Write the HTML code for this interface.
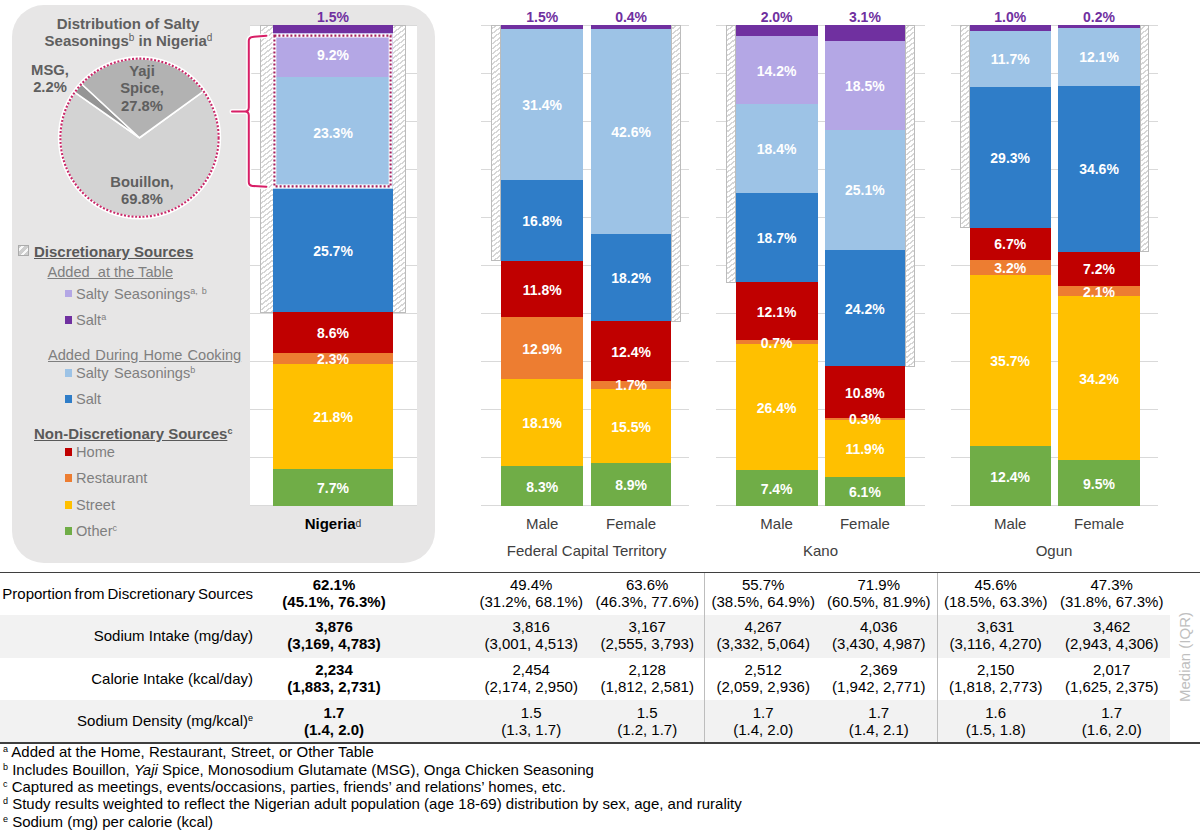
<!DOCTYPE html><html><head><meta charset="utf-8"><style>
*{margin:0;padding:0;box-sizing:border-box}
html,body{width:1200px;height:830px;overflow:hidden;background:#fff}
body{position:relative;font-family:"Liberation Sans",sans-serif;color:#000}
.a{position:absolute}
.g{position:absolute;height:1px;background:#D9D9D9}
.seg{position:absolute}
.bl{position:absolute;color:#fff;font-weight:bold;font-size:14px;line-height:14px;text-align:center;white-space:nowrap}
.tl{position:absolute;color:#7030A0;font-weight:bold;font-size:14px;line-height:14px;text-align:center;white-space:nowrap}
.hatch{position:absolute;border:1px solid #BCBCBC;background:repeating-linear-gradient(-37deg,#fff 0px,#fff 2.6px,#D6D6D6 2.6px,#D6D6D6 4.05px)}
.ax{position:absolute;font-size:14px;line-height:14px;color:#404040;text-align:center;white-space:nowrap}
.lg{position:absolute;font-size:14px;line-height:14px;color:#767171;white-space:nowrap}
.sq{position:absolute;width:8px;height:8px}
sup{font-size:9px;vertical-align:0;position:relative;top:-5px}
.tc{position:absolute;font-size:15px;line-height:17px;text-align:center;white-space:nowrap;color:#000}
.fn{position:absolute;left:3px;font-size:15px;line-height:15px;white-space:nowrap;color:#000}
</style></head><body>

<div class="a" style="left:11.5px;top:5px;width:423.2px;height:557.9px;border-radius:32px;background:#E7E6E6"></div>
<div class="a" style="left:249.7px;top:25px;width:167px;height:481px;background:#fff"></div>
<div class="g" style="left:249.5px;top:24.50px;width:167.0px"></div>
<div class="g" style="left:249.5px;top:72.53px;width:167.0px"></div>
<div class="g" style="left:249.5px;top:120.56px;width:167.0px"></div>
<div class="g" style="left:249.5px;top:168.59px;width:167.0px"></div>
<div class="g" style="left:249.5px;top:216.62px;width:167.0px"></div>
<div class="g" style="left:249.5px;top:264.65px;width:167.0px"></div>
<div class="g" style="left:249.5px;top:312.68px;width:167.0px"></div>
<div class="g" style="left:249.5px;top:360.71px;width:167.0px"></div>
<div class="g" style="left:249.5px;top:408.74px;width:167.0px"></div>
<div class="g" style="left:249.5px;top:456.77px;width:167.0px"></div>
<div class="g" style="left:249.5px;top:504.80px;width:167.0px"></div>
<div class="g" style="left:481px;top:24.50px;width:208.4px"></div>
<div class="g" style="left:481px;top:72.53px;width:208.4px"></div>
<div class="g" style="left:481px;top:120.56px;width:208.4px"></div>
<div class="g" style="left:481px;top:168.59px;width:208.4px"></div>
<div class="g" style="left:481px;top:216.62px;width:208.4px"></div>
<div class="g" style="left:481px;top:264.65px;width:208.4px"></div>
<div class="g" style="left:481px;top:312.68px;width:208.4px"></div>
<div class="g" style="left:481px;top:360.71px;width:208.4px"></div>
<div class="g" style="left:481px;top:408.74px;width:208.4px"></div>
<div class="g" style="left:481px;top:456.77px;width:208.4px"></div>
<div class="g" style="left:481px;top:504.80px;width:208.4px"></div>
<div class="g" style="left:716px;top:24.50px;width:208.6px"></div>
<div class="g" style="left:716px;top:72.53px;width:208.6px"></div>
<div class="g" style="left:716px;top:120.56px;width:208.6px"></div>
<div class="g" style="left:716px;top:168.59px;width:208.6px"></div>
<div class="g" style="left:716px;top:216.62px;width:208.6px"></div>
<div class="g" style="left:716px;top:264.65px;width:208.6px"></div>
<div class="g" style="left:716px;top:312.68px;width:208.6px"></div>
<div class="g" style="left:716px;top:360.71px;width:208.6px"></div>
<div class="g" style="left:716px;top:408.74px;width:208.6px"></div>
<div class="g" style="left:716px;top:456.77px;width:208.6px"></div>
<div class="g" style="left:716px;top:504.80px;width:208.6px"></div>
<div class="g" style="left:951px;top:24.50px;width:207.4px"></div>
<div class="g" style="left:951px;top:72.53px;width:207.4px"></div>
<div class="g" style="left:951px;top:120.56px;width:207.4px"></div>
<div class="g" style="left:951px;top:168.59px;width:207.4px"></div>
<div class="g" style="left:951px;top:216.62px;width:207.4px"></div>
<div class="g" style="left:951px;top:264.65px;width:207.4px"></div>
<div class="g" style="left:951px;top:312.68px;width:207.4px"></div>
<div class="g" style="left:951px;top:360.71px;width:207.4px"></div>
<div class="g" style="left:951px;top:408.74px;width:207.4px"></div>
<div class="g" style="left:951px;top:456.77px;width:207.4px"></div>
<div class="g" style="left:951px;top:504.80px;width:207.4px"></div>
<div class="hatch" style="left:260.0px;top:25.0px;width:145.5px;height:287.6px"></div>
<div class="hatch" style="left:490.5px;top:25.0px;width:10.5px;height:236.2px"></div>
<div class="hatch" style="left:671.3px;top:25.0px;width:9.7px;height:296.7px"></div>
<div class="hatch" style="left:725.7px;top:25.0px;width:9.9px;height:257.8px"></div>
<div class="hatch" style="left:905.3px;top:25.0px;width:10.2px;height:341.8px"></div>
<div class="hatch" style="left:960.4px;top:25.0px;width:9.4px;height:203.1px"></div>
<div class="hatch" style="left:1140.0px;top:25.0px;width:9.3px;height:227.1px"></div>
<div class="seg" style="left:273.0px;top:469.04px;width:120.0px;height:36.96px;background:#70AD47"></div>
<div class="seg" style="left:273.0px;top:364.40px;width:120.0px;height:104.64px;background:#FFC000"></div>
<div class="seg" style="left:273.0px;top:353.36px;width:120.0px;height:11.04px;background:#ED7D31"></div>
<div class="seg" style="left:273.0px;top:312.08px;width:120.0px;height:41.28px;background:#C00000"></div>
<div class="seg" style="left:273.0px;top:188.72px;width:120.0px;height:123.36px;background:#2F7DC8"></div>
<div class="seg" style="left:273.0px;top:76.88px;width:120.0px;height:111.84px;background:#9DC3E6"></div>
<div class="seg" style="left:273.0px;top:32.72px;width:120.0px;height:44.16px;background:#B4A7E5"></div>
<div class="seg" style="left:273.0px;top:25.00px;width:120.0px;height:7.72px;background:#7030A0"></div>
<div class="bl" style="left:293.0px;top:481.0px;width:80px">7.7%</div>
<div class="bl" style="left:293.0px;top:410.2px;width:80px">21.8%</div>
<div class="bl" style="left:293.0px;top:352.4px;width:80px">2.3%</div>
<div class="bl" style="left:293.0px;top:326.2px;width:80px">8.6%</div>
<div class="bl" style="left:293.0px;top:243.9px;width:80px">25.7%</div>
<div class="bl" style="left:293.0px;top:126.3px;width:80px">23.3%</div>
<div class="bl" style="left:293.0px;top:48.3px;width:80px">9.2%</div>
<div class="tl" style="left:293.0px;top:10px;width:80px">1.5%</div>
<div class="seg" style="left:501.0px;top:466.16px;width:82.4px;height:39.84px;background:#70AD47"></div>
<div class="seg" style="left:501.0px;top:379.28px;width:82.4px;height:86.88px;background:#FFC000"></div>
<div class="seg" style="left:501.0px;top:317.36px;width:82.4px;height:61.92px;background:#ED7D31"></div>
<div class="seg" style="left:501.0px;top:260.72px;width:82.4px;height:56.64px;background:#C00000"></div>
<div class="seg" style="left:501.0px;top:180.08px;width:82.4px;height:80.64px;background:#2F7DC8"></div>
<div class="seg" style="left:501.0px;top:29.36px;width:82.4px;height:150.72px;background:#9DC3E6"></div>
<div class="seg" style="left:501.0px;top:25.00px;width:82.4px;height:4.36px;background:#7030A0"></div>
<div class="bl" style="left:502.2px;top:479.6px;width:80px">8.3%</div>
<div class="bl" style="left:502.2px;top:416.2px;width:80px">18.1%</div>
<div class="bl" style="left:502.2px;top:341.8px;width:80px">12.9%</div>
<div class="bl" style="left:502.2px;top:282.5px;width:80px">11.8%</div>
<div class="bl" style="left:502.2px;top:213.9px;width:80px">16.8%</div>
<div class="bl" style="left:502.2px;top:98.2px;width:80px">31.4%</div>
<div class="tl" style="left:502.2px;top:10px;width:80px">1.5%</div>
<div class="seg" style="left:590.9px;top:463.28px;width:80.4px;height:42.72px;background:#70AD47"></div>
<div class="seg" style="left:590.9px;top:388.88px;width:80.4px;height:74.40px;background:#FFC000"></div>
<div class="seg" style="left:590.9px;top:380.72px;width:80.4px;height:8.16px;background:#ED7D31"></div>
<div class="seg" style="left:590.9px;top:321.20px;width:80.4px;height:59.52px;background:#C00000"></div>
<div class="seg" style="left:590.9px;top:233.84px;width:80.4px;height:87.36px;background:#2F7DC8"></div>
<div class="seg" style="left:590.9px;top:29.36px;width:80.4px;height:204.48px;background:#9DC3E6"></div>
<div class="seg" style="left:590.9px;top:25.00px;width:80.4px;height:4.36px;background:#7030A0"></div>
<div class="bl" style="left:591.1px;top:478.1px;width:80px">8.9%</div>
<div class="bl" style="left:591.1px;top:419.6px;width:80px">15.5%</div>
<div class="bl" style="left:591.1px;top:378.3px;width:80px">1.7%</div>
<div class="bl" style="left:591.1px;top:344.5px;width:80px">12.4%</div>
<div class="bl" style="left:591.1px;top:271.0px;width:80px">18.2%</div>
<div class="bl" style="left:591.1px;top:125.1px;width:80px">42.6%</div>
<div class="tl" style="left:591.1px;top:10px;width:80px">0.4%</div>
<div class="seg" style="left:735.6px;top:470.48px;width:82.0px;height:35.52px;background:#70AD47"></div>
<div class="seg" style="left:735.6px;top:343.76px;width:82.0px;height:126.72px;background:#FFC000"></div>
<div class="seg" style="left:735.6px;top:340.40px;width:82.0px;height:3.36px;background:#ED7D31"></div>
<div class="seg" style="left:735.6px;top:282.32px;width:82.0px;height:58.08px;background:#C00000"></div>
<div class="seg" style="left:735.6px;top:192.56px;width:82.0px;height:89.76px;background:#2F7DC8"></div>
<div class="seg" style="left:735.6px;top:104.24px;width:82.0px;height:88.32px;background:#9DC3E6"></div>
<div class="seg" style="left:735.6px;top:36.08px;width:82.0px;height:68.16px;background:#B4A7E5"></div>
<div class="seg" style="left:735.6px;top:25.00px;width:82.0px;height:11.08px;background:#7030A0"></div>
<div class="bl" style="left:736.6px;top:481.7px;width:80px">7.4%</div>
<div class="bl" style="left:736.6px;top:400.6px;width:80px">26.4%</div>
<div class="bl" style="left:736.6px;top:335.6px;width:80px">0.7%</div>
<div class="bl" style="left:736.6px;top:304.9px;width:80px">12.1%</div>
<div class="bl" style="left:736.6px;top:230.9px;width:80px">18.7%</div>
<div class="bl" style="left:736.6px;top:141.9px;width:80px">18.4%</div>
<div class="bl" style="left:736.6px;top:63.7px;width:80px">14.2%</div>
<div class="tl" style="left:736.6px;top:10px;width:80px">2.0%</div>
<div class="seg" style="left:824.5px;top:476.72px;width:80.8px;height:29.28px;background:#70AD47"></div>
<div class="seg" style="left:824.5px;top:419.60px;width:80.8px;height:57.12px;background:#FFC000"></div>
<div class="seg" style="left:824.5px;top:418.16px;width:80.8px;height:1.44px;background:#ED7D31"></div>
<div class="seg" style="left:824.5px;top:366.32px;width:80.8px;height:51.84px;background:#C00000"></div>
<div class="seg" style="left:824.5px;top:250.16px;width:80.8px;height:116.16px;background:#2F7DC8"></div>
<div class="seg" style="left:824.5px;top:129.68px;width:80.8px;height:120.48px;background:#9DC3E6"></div>
<div class="seg" style="left:824.5px;top:40.88px;width:80.8px;height:88.80px;background:#B4A7E5"></div>
<div class="seg" style="left:824.5px;top:25.00px;width:80.8px;height:15.88px;background:#7030A0"></div>
<div class="bl" style="left:824.9px;top:484.9px;width:80px">6.1%</div>
<div class="bl" style="left:824.9px;top:441.7px;width:80px">11.9%</div>
<div class="bl" style="left:824.9px;top:412.4px;width:80px">0.3%</div>
<div class="bl" style="left:824.9px;top:385.7px;width:80px">10.8%</div>
<div class="bl" style="left:824.9px;top:301.7px;width:80px">24.2%</div>
<div class="bl" style="left:824.9px;top:183.4px;width:80px">25.1%</div>
<div class="bl" style="left:824.9px;top:78.8px;width:80px">18.5%</div>
<div class="tl" style="left:824.9px;top:10px;width:80px">3.1%</div>
<div class="seg" style="left:969.8px;top:446.48px;width:80.8px;height:59.52px;background:#70AD47"></div>
<div class="seg" style="left:969.8px;top:275.12px;width:80.8px;height:171.36px;background:#FFC000"></div>
<div class="seg" style="left:969.8px;top:259.76px;width:80.8px;height:15.36px;background:#ED7D31"></div>
<div class="seg" style="left:969.8px;top:227.60px;width:80.8px;height:32.16px;background:#C00000"></div>
<div class="seg" style="left:969.8px;top:86.96px;width:80.8px;height:140.64px;background:#2F7DC8"></div>
<div class="seg" style="left:969.8px;top:30.80px;width:80.8px;height:56.16px;background:#9DC3E6"></div>
<div class="seg" style="left:969.8px;top:25.00px;width:80.8px;height:5.80px;background:#7030A0"></div>
<div class="bl" style="left:970.2px;top:469.7px;width:80px">12.4%</div>
<div class="bl" style="left:970.2px;top:354.3px;width:80px">35.7%</div>
<div class="bl" style="left:970.2px;top:260.9px;width:80px">3.2%</div>
<div class="bl" style="left:970.2px;top:237.2px;width:80px">6.7%</div>
<div class="bl" style="left:970.2px;top:150.8px;width:80px">29.3%</div>
<div class="bl" style="left:970.2px;top:52.4px;width:80px">11.7%</div>
<div class="tl" style="left:970.2px;top:10px;width:80px">1.0%</div>
<div class="seg" style="left:1058.1px;top:460.40px;width:81.9px;height:45.60px;background:#70AD47"></div>
<div class="seg" style="left:1058.1px;top:296.24px;width:81.9px;height:164.16px;background:#FFC000"></div>
<div class="seg" style="left:1058.1px;top:286.16px;width:81.9px;height:10.08px;background:#ED7D31"></div>
<div class="seg" style="left:1058.1px;top:251.60px;width:81.9px;height:34.56px;background:#C00000"></div>
<div class="seg" style="left:1058.1px;top:85.52px;width:81.9px;height:166.08px;background:#2F7DC8"></div>
<div class="seg" style="left:1058.1px;top:27.44px;width:81.9px;height:58.08px;background:#9DC3E6"></div>
<div class="seg" style="left:1058.1px;top:25.00px;width:81.9px;height:2.80px;background:#7030A0"></div>
<div class="bl" style="left:1059.0px;top:476.7px;width:80px">9.5%</div>
<div class="bl" style="left:1059.0px;top:371.8px;width:80px">34.2%</div>
<div class="bl" style="left:1059.0px;top:284.7px;width:80px">2.1%</div>
<div class="bl" style="left:1059.0px;top:262.4px;width:80px">7.2%</div>
<div class="bl" style="left:1059.0px;top:162.1px;width:80px">34.6%</div>
<div class="bl" style="left:1059.0px;top:50.0px;width:80px">12.1%</div>
<div class="tl" style="left:1059.0px;top:10px;width:80px">0.2%</div>
<svg class="a" style="left:0;top:0" width="440" height="240" viewBox="0 0 440 240">
<circle cx="139.5" cy="137.75" r="80.4" fill="none" stroke="#fff" stroke-width="2.6"/>
<path d="M139.50,137.75 L203.41,91.31 A79,79 0 1 1 74.87,92.32 Z" fill="#D3D3D3" stroke="#fff" stroke-width="1.6" stroke-linejoin="round"/>
<path d="M139.50,137.75 L74.87,92.32 A79,79 0 0 1 81.63,83.97 Z" fill="#959595" stroke="#fff" stroke-width="1.6" stroke-linejoin="round"/>
<path d="M139.50,137.75 L81.63,83.97 A79,79 0 0 1 203.41,91.31 Z" fill="#B2B2B2" stroke="#fff" stroke-width="1.6" stroke-linejoin="round"/>
<circle cx="139.5" cy="137.75" r="79.1" fill="none" stroke="#C92868" stroke-width="2.1" stroke-dasharray="2 1.72"/>
<path d="M266.4,35.7 L252.5,36.9 C250,37.2 248.8,38.5 248.8,40.8 L248.8,107.5 C248.8,110.2 247.6,111.4 245,111.4 L232,111.4 M245,111.4 C247.6,111.4 248.8,112.6 248.8,115.3 L248.8,182 C248.8,184.3 250,185.6 252.5,185.9 L266.4,186.8" fill="none" stroke="#fff" stroke-width="5" stroke-linecap="round" stroke-opacity="0.9"/>
<path d="M266.4,35.7 L252.5,36.9 C250,37.2 248.8,38.5 248.8,40.8 L248.8,107.5 C248.8,110.2 247.6,111.4 245,111.4 L232,111.4 M245,111.4 C247.6,111.4 248.8,112.6 248.8,115.3 L248.8,182 C248.8,184.3 250,185.6 252.5,185.9 L266.4,186.8" fill="none" stroke="#D81E66" stroke-width="2" stroke-linecap="round"/>
<rect x="274.4" y="35.6" width="116.2" height="150.8" fill="none" stroke="#fff" stroke-width="3.8"/>
<rect x="274.4" y="35.6" width="116.2" height="150.8" fill="none" stroke="#A3205E" stroke-width="2.1" stroke-dasharray="2 2"/>
</svg>
<div style="position:absolute;font-weight:bold;font-size:14.4px;line-height:14px;color:#5F5F5F;text-align:center;white-space:nowrap;font-size:15px;left:28px;top:16.8px;width:200px">Distribution of Salty</div>
<div style="position:absolute;font-weight:bold;font-size:14.4px;line-height:14px;color:#5F5F5F;text-align:center;white-space:nowrap;font-size:15px;left:28.5px;top:33.8px;width:200px">Seasonings<sup style="font-weight:normal;font-size:10px">b</sup> in Nigeria<sup style="font-weight:normal;font-size:10px">d</sup></div>
<div style="position:absolute;font-weight:bold;font-size:14.4px;line-height:14px;color:#5F5F5F;text-align:center;white-space:nowrap;left:92px;top:62.9px;width:100px;font-size:14.8px;line-height:17.4px">Yaji<br>Spice,<br>27.8%</div>
<div style="position:absolute;font-weight:bold;font-size:14.4px;line-height:14px;color:#5F5F5F;text-align:center;white-space:nowrap;left:92px;top:174.2px;width:100px;font-size:14.8px;line-height:16.9px">Bouillon,<br>69.8%</div>
<div style="position:absolute;font-weight:bold;font-size:14.4px;line-height:14px;color:#5F5F5F;text-align:center;white-space:nowrap;left:0px;top:62px;width:100px;font-size:14.8px;line-height:17px">MSG,<br>2.2%</div>
<div style="position:absolute;left:17.5px;top:245px;width:11.3px;height:11.3px;border:1.3px solid #ABABAB;background:repeating-linear-gradient(-45deg,#CDCDCD 0,#CDCDCD 3.4px,#F8F8F8 3.4px,#F8F8F8 5.4px)"></div>
<div style="position:absolute;font-size:14.6px;line-height:14px;white-space:nowrap;left:34px;top:245px;font-size:15px;font-weight:bold;color:#595959;text-decoration:underline">Discretionary Sources</div>
<div style="position:absolute;font-size:14.6px;line-height:14px;white-space:nowrap;left:47.5px;top:265px;color:#7F7F7F;text-decoration:underline">Added&nbsp; at the Table</div>
<div style="position:absolute;left:64.5px;top:289.7px;width:7.8px;height:7.8px;background:#B4A7E5"></div>
<div style="position:absolute;font-size:14.6px;line-height:14px;white-space:nowrap;left:76px;top:286.6px;color:#7F7F7F;word-spacing:1.5px">Salty Seasonings<sup>a, b</sup></div>
<div style="position:absolute;left:64.5px;top:316.3px;width:7.8px;height:7.8px;background:#7030A0"></div>
<div style="position:absolute;font-size:14.6px;line-height:14px;white-space:nowrap;left:76px;top:313.2px;color:#7F7F7F;word-spacing:1.5px">Salt<sup>a</sup></div>
<div style="position:absolute;left:64.5px;top:369.3px;width:7.8px;height:7.8px;background:#9DC3E6"></div>
<div style="position:absolute;font-size:14.6px;line-height:14px;white-space:nowrap;left:76px;top:366.2px;color:#7F7F7F;word-spacing:1.5px">Salty Seasonings<sup>b</sup></div>
<div style="position:absolute;left:64.5px;top:395.4px;width:7.8px;height:7.8px;background:#2F7DC8"></div>
<div style="position:absolute;font-size:14.6px;line-height:14px;white-space:nowrap;left:76px;top:392.3px;color:#7F7F7F;word-spacing:1.5px">Salt</div>
<div style="position:absolute;left:64.5px;top:448.2px;width:7.8px;height:7.8px;background:#C00000"></div>
<div style="position:absolute;font-size:14.6px;line-height:14px;white-space:nowrap;left:76px;top:445.1px;color:#7F7F7F;word-spacing:1.5px">Home</div>
<div style="position:absolute;left:64.5px;top:474.3px;width:7.8px;height:7.8px;background:#ED7D31"></div>
<div style="position:absolute;font-size:14.6px;line-height:14px;white-space:nowrap;left:76px;top:471.2px;color:#7F7F7F;word-spacing:1.5px">Restaurant</div>
<div style="position:absolute;left:64.5px;top:501.4px;width:7.8px;height:7.8px;background:#FFC000"></div>
<div style="position:absolute;font-size:14.6px;line-height:14px;white-space:nowrap;left:76px;top:498.3px;color:#7F7F7F;word-spacing:1.5px">Street</div>
<div style="position:absolute;left:64.5px;top:527.3px;width:7.8px;height:7.8px;background:#70AD47"></div>
<div style="position:absolute;font-size:14.6px;line-height:14px;white-space:nowrap;left:76px;top:524.2px;color:#7F7F7F;word-spacing:1.5px">Other<sup>c</sup></div>
<div style="position:absolute;font-size:14.6px;line-height:14px;white-space:nowrap;left:48px;top:347.5px;color:#7F7F7F;text-decoration:underline;word-spacing:1.1px">Added During Home Cooking</div>
<div style="position:absolute;font-size:14.6px;line-height:14px;white-space:nowrap;left:34px;top:427px;font-size:15px;font-weight:bold;color:#595959"><u>Non-Discretionary Sources</u><sup>c</sup></div>
<div style="position:absolute;font-size:15px;line-height:15px;color:#404040;text-align:center;white-space:nowrap;left:283px;top:515.7px;width:100px;font-weight:bold;color:#000">Nigeria<sup style="font-weight:normal;font-size:10.3px;top:-2.2px;color:#333">d</sup></div>
<div style="position:absolute;font-size:15px;line-height:15px;color:#404040;text-align:center;white-space:nowrap;left:492.20000000000005px;top:516px;width:100px">Male</div>
<div style="position:absolute;font-size:15px;line-height:15px;color:#404040;text-align:center;white-space:nowrap;left:581.1px;top:516px;width:100px">Female</div>
<div style="position:absolute;font-size:15px;line-height:15px;color:#404040;text-align:center;white-space:nowrap;left:726.6px;top:516px;width:100px">Male</div>
<div style="position:absolute;font-size:15px;line-height:15px;color:#404040;text-align:center;white-space:nowrap;left:814.9px;top:516px;width:100px">Female</div>
<div style="position:absolute;font-size:15px;line-height:15px;color:#404040;text-align:center;white-space:nowrap;left:960.2px;top:516px;width:100px">Male</div>
<div style="position:absolute;font-size:15px;line-height:15px;color:#404040;text-align:center;white-space:nowrap;left:1049px;top:516px;width:100px">Female</div>
<div style="position:absolute;font-size:15px;line-height:15px;color:#404040;text-align:center;white-space:nowrap;left:466.70000000000005px;top:543px;width:240px">Federal Capital Territory</div>
<div style="position:absolute;font-size:15px;line-height:15px;color:#404040;text-align:center;white-space:nowrap;left:700.5px;top:543px;width:240px">Kano</div>
<div style="position:absolute;font-size:15px;line-height:15px;color:#404040;text-align:center;white-space:nowrap;left:934px;top:543px;width:240px">Ogun</div>
<div class="a" style="left:0;top:571.5px;width:1200px;height:1.5px;background:#3F3F3F"></div>
<div class="a" style="left:0;top:615px;width:1169.5px;height:43px;background:#F2F2F2"></div>
<div class="a" style="left:0;top:700px;width:1169.5px;height:42.200000000000045px;background:#F2F2F2"></div>
<div class="a" style="left:0;top:742.2px;width:1200px;height:1.5px;background:#3F3F3F"></div>
<div class="a" style="left:704.2px;top:573px;width:1.1px;height:169.3px;background:#BDBDBD"></div>
<div class="a" style="left:937.0px;top:573px;width:1.1px;height:169.3px;background:#BDBDBD"></div>
<div style="position:absolute;right:947px;top:586.2px;font-size:15px;line-height:16px;white-space:nowrap;word-spacing:-1.2px">Proportion from Discretionary Sources</div>
<div style="position:absolute;right:947px;top:628.0px;font-size:15px;line-height:16px;white-space:nowrap;">Sodium Intake (mg/day)</div>
<div style="position:absolute;right:947px;top:671.2px;font-size:15px;line-height:16px;white-space:nowrap;">Calorie Intake (kcal/day)</div>
<div style="position:absolute;right:947px;top:713.3px;font-size:15px;line-height:16px;white-space:nowrap;">Sodium Density (mg/kcal)<sup>e</sup></div>
<div class="tc" style="font-weight:bold;left:264px;top:576.4px;width:140px">62.1%<br>(45.1%, 76.3%)</div>
<div class="tc" style="left:461.20000000000005px;top:576.4px;width:140px">49.4%<br>(31.2%, 68.1%)</div>
<div class="tc" style="left:577.2px;top:576.4px;width:140px">63.6%<br>(46.3%, 77.6%)</div>
<div class="tc" style="left:693.2px;top:576.4px;width:140px">55.7%<br>(38.5%, 64.9%)</div>
<div class="tc" style="left:808.8px;top:576.4px;width:140px">71.9%<br>(60.5%, 81.9%)</div>
<div class="tc" style="left:925.7px;top:576.4px;width:140px">45.6%<br>(18.5%, 63.3%)</div>
<div class="tc" style="left:1041.7px;top:576.4px;width:140px">47.3%<br>(31.8%, 67.3%)</div>
<div class="tc" style="font-weight:bold;left:264px;top:618.2px;width:140px">3,876<br>(3,169, 4,783)</div>
<div class="tc" style="left:461.20000000000005px;top:618.2px;width:140px">3,816<br>(3,001, 4,513)</div>
<div class="tc" style="left:577.2px;top:618.2px;width:140px">3,167<br>(2,555, 3,793)</div>
<div class="tc" style="left:693.2px;top:618.2px;width:140px">4,267<br>(3,332, 5,064)</div>
<div class="tc" style="left:808.8px;top:618.2px;width:140px">4,036<br>(3,430, 4,987)</div>
<div class="tc" style="left:925.7px;top:618.2px;width:140px">3,631<br>(3,116, 4,270)</div>
<div class="tc" style="left:1041.7px;top:618.2px;width:140px">3,462<br>(2,943, 4,306)</div>
<div class="tc" style="font-weight:bold;left:264px;top:661.4px;width:140px">2,234<br>(1,883, 2,731)</div>
<div class="tc" style="left:461.20000000000005px;top:661.4px;width:140px">2,454<br>(2,174, 2,950)</div>
<div class="tc" style="left:577.2px;top:661.4px;width:140px">2,128<br>(1,812, 2,581)</div>
<div class="tc" style="left:693.2px;top:661.4px;width:140px">2,512<br>(2,059, 2,936)</div>
<div class="tc" style="left:808.8px;top:661.4px;width:140px">2,369<br>(1,942, 2,771)</div>
<div class="tc" style="left:925.7px;top:661.4px;width:140px">2,150<br>(1,818, 2,773)</div>
<div class="tc" style="left:1041.7px;top:661.4px;width:140px">2,017<br>(1,625, 2,375)</div>
<div class="tc" style="font-weight:bold;left:264px;top:703.5px;width:140px">1.7<br>(1.4, 2.0)</div>
<div class="tc" style="left:461.20000000000005px;top:703.5px;width:140px">1.5<br>(1.3, 1.7)</div>
<div class="tc" style="left:577.2px;top:703.5px;width:140px">1.5<br>(1.2, 1.7)</div>
<div class="tc" style="left:693.2px;top:703.5px;width:140px">1.7<br>(1.4, 2.0)</div>
<div class="tc" style="left:808.8px;top:703.5px;width:140px">1.7<br>(1.4, 2.1)</div>
<div class="tc" style="left:925.7px;top:703.5px;width:140px">1.6<br>(1.5, 1.8)</div>
<div class="tc" style="left:1041.7px;top:703.5px;width:140px">1.7<br>(1.6, 2.0)</div>
<div style="position:absolute;left:1184px;top:656.8px;width:0;height:0"><div style="position:absolute;transform:translate(-50%,-50%) rotate(-90deg);font-size:15px;line-height:15px;color:#BFBFBF;white-space:nowrap">Median (IQR)</div></div>
<div class="fn" style="top:744.4px"><sup>a</sup> Added at the Home, Restaurant, Street, or Other Table</div>
<div class="fn" style="top:761.7px"><sup>b</sup> Includes Bouillon, <i>Yaji</i> Spice, Monosodium Glutamate (MSG), Onga Chicken Seasoning</div>
<div class="fn" style="top:779.0px"><sup>c</sup> Captured as meetings, events/occasions, parties, friends&#8217; and relations&#8217; homes, etc.</div>
<div class="fn" style="top:796.3px"><sup>d</sup> Study results weighted to reflect the Nigerian adult population (age 18-69) distribution by sex, age, and rurality</div>
<div class="fn" style="top:813.6px"><sup>e</sup> Sodium (mg) per calorie (kcal)</div>
</body></html>
